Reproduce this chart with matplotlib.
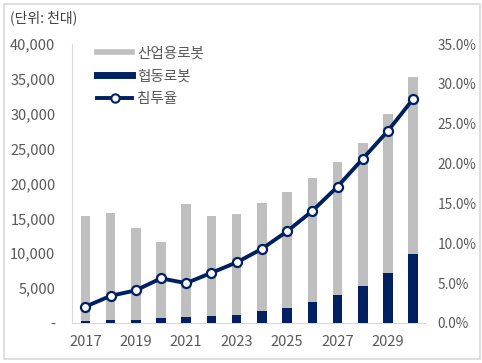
import numpy as np
import matplotlib
matplotlib.use("Agg")
import matplotlib.pyplot as plt
from matplotlib.patches import Rectangle
from matplotlib.lines import Line2D
from matplotlib.ticker import FuncFormatter, MultipleLocator

plt.rcParams['font.family'] = ['Noto Sans CJK KR', 'DejaVu Sans']

years = list(range(2017, 2031))
industrial = [15300, 15800, 13650, 11550, 17100, 15400, 15650,
              17200, 18800, 20800, 23150, 25800, 30000, 35300]
cobot = [250, 500, 450, 650, 850, 950, 1200,
         1650, 2150, 2950, 3950, 5350, 7150, 9850]
rate = [2.05, 3.4, 4.1, 5.6, 5.0, 6.3, 7.6,
        9.3, 11.5, 14.05, 17.1, 20.6, 24.1, 28.1]

GRAY = "#BFBFBF"
NAVY = "#002060"
TXT = "#595959"
AXC = "#D9D9D9"

fig = plt.figure(figsize=(4.82, 3.63), dpi=100)
ax = fig.add_axes([72 / 482, 40 / 363, 353 / 482, 279 / 363])
ax2 = ax.twinx()

x = np.arange(len(years))
ax.bar(x, industrial, width=0.38, color=GRAY, zorder=2)
ax.bar(x, cobot, width=0.38, color=NAVY, zorder=3)
ax2.plot(x, rate, color=NAVY, lw=2.8, marker="o", ms=6.5,
         mfc="white", mec=NAVY, mew=1.6, zorder=4)

ax.set_xlim(-0.53, 13.47)
ax.set_ylim(0, 40000)
ax2.set_ylim(0, 35)
ax.yaxis.set_major_locator(MultipleLocator(5000))
ax2.yaxis.set_major_locator(MultipleLocator(5))
ax.yaxis.set_major_formatter(FuncFormatter(lambda v, p: "-" if v == 0 else f"{v:,.0f}"))
ax2.yaxis.set_major_formatter(FuncFormatter(lambda v, p: f"{v:.1f}%"))
ax.set_xticks(x[::2])
ax.set_xticklabels([str(y) for y in years[::2]])

for a in (ax, ax2):
    for s in ("top", "right", "left", "bottom"):
        a.spines[s].set_visible(False)
    a.tick_params(length=0, colors=TXT, labelsize=10.5)
ax.spines["left"].set_visible(True)
ax.spines["left"].set_color(AXC)
ax.spines["bottom"].set_visible(True)
ax.spines["bottom"].set_color(AXC)
ax.tick_params(axis="y", pad=12)
ax.tick_params(axis="x", pad=9)
ax2.tick_params(axis="y", pad=9, labelsize=9.8)
ax.set_zorder(1)
ax2.set_zorder(2)
ax2.patch.set_visible(False)

handles = [
    Line2D([], [], color=GRAY, lw=4),
    Line2D([], [], color=NAVY, lw=5),
    Line2D([], [], color=NAVY, lw=2.8, marker="o", ms=6, mfc="white", mec=NAVY, mew=1.5),
]
leg = fig.legend(handles, ["산업용로봇", "협동로봇", "침투율"], loc="upper left",
                 bbox_to_anchor=(84 / 482, 1 - 33 / 363), frameon=False,
                 fontsize=10.5, handlelength=2.4, handletextpad=0.35,
                 labelspacing=0.62, labelcolor=TXT)

fig.text(10 / 482, 1 - 18 / 363, "(단위: 천대)", fontsize=10, color="#404040",
         va="center", ha="left")

fig.patches.append(Rectangle((4 / 482, 4 / 363), 476 / 482, 355 / 363,
                             transform=fig.transFigure, fill=False,
                             edgecolor="#D9D9D9", lw=1.2))

fig.savefig("out.png", dpi=100)
